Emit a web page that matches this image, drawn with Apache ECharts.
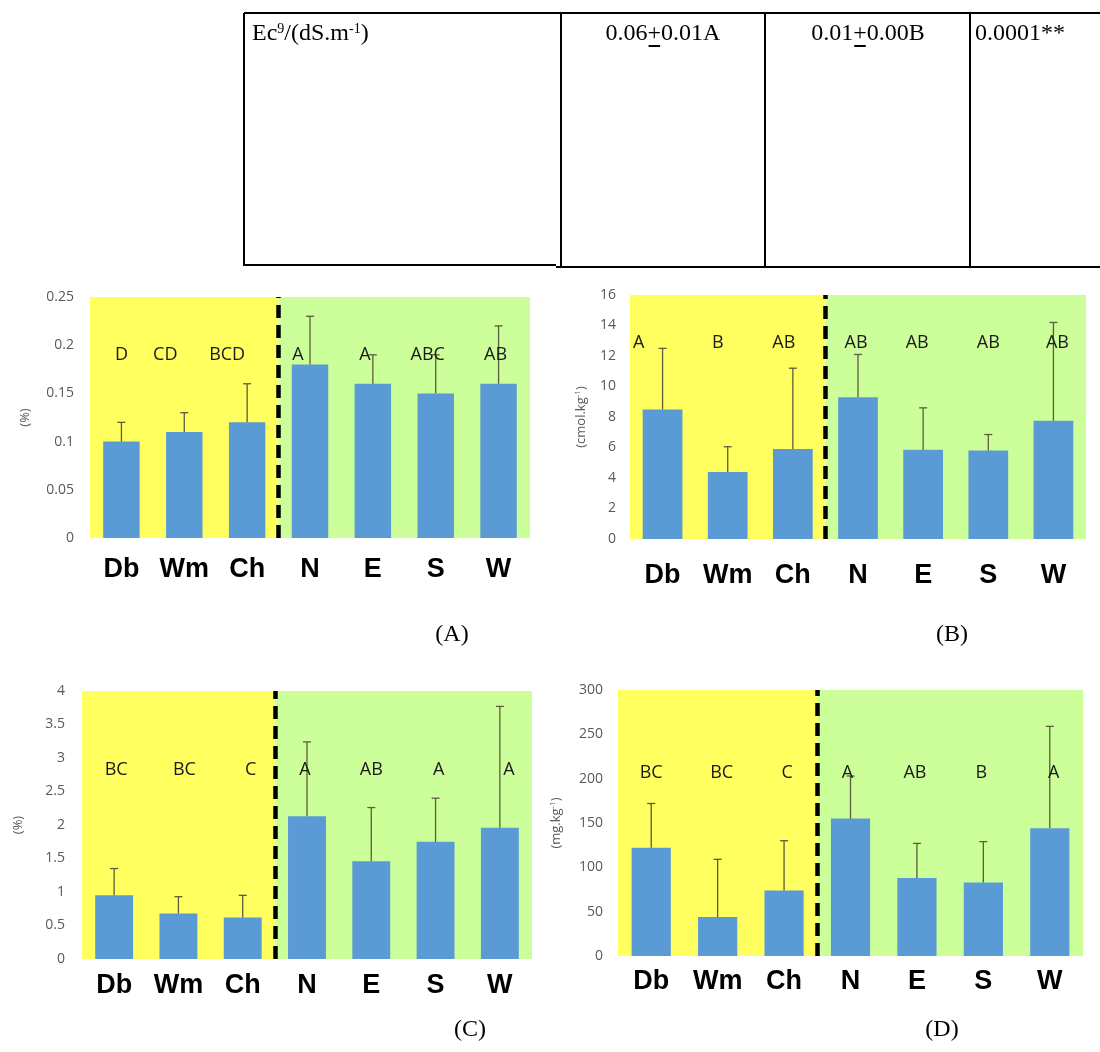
<!DOCTYPE html>
<html><head><meta charset="utf-8">
<script src="https://cdn.jsdelivr.net/npm/echarts@6/dist/echarts.min.js"></script>
<style>html,body{margin:0;padding:0;background:#fff}#c{width:1100px;height:1052px}</style>
</head><body><div id="c"></div>
<script>
// ---------- data ----------
const categories = ['Db', 'Wm', 'Ch', 'N', 'E', 'S', 'W'];
const regionSpans = [[0, 3], [3, 7]];   // yellow group, green group (in category units)
const dividerAt = 3;

const aValues = [0.10, 0.11, 0.12, 0.18, 0.16, 0.15, 0.16];
const aErrors = [0.02, 0.02, 0.04, 0.05, 0.03, 0.04, 0.06];
const aLetters = ['D', 'CD', 'BCD', 'A', 'A', 'ABC', 'AB'];

const bValues = [8.5, 4.4, 5.9, 9.3, 5.85, 5.8, 7.75];
const bErrors = [4.0, 1.65, 5.3, 2.8, 2.75, 1.05, 6.45];
const bLetters = ['A', 'B', 'AB', 'AB', 'AB', 'AB', 'AB'];

const cValues = [0.95, 0.68, 0.62, 2.13, 1.46, 1.75, 1.96];
const cErrors = [0.40, 0.25, 0.33, 1.11, 0.80, 0.65, 1.81];
const cLetters = ['BC', 'BC', 'C', 'A', 'AB', 'A', 'A'];

const dValues = [122, 44, 74, 155, 88, 83, 144];
const dErrors = [50, 65, 56, 48, 39, 46, 115];
const dLetters = ['BC', 'BC', 'C', 'A', 'AB', 'B', 'A'];

const aAxis = { min: 0, max: 0.25, interval: 0.05 };
const bAxis = { min: 0, max: 16, interval: 2 };
const cAxis = { min: 0, max: 4, interval: 0.5 };
const dAxis = { min: 0, max: 300, interval: 50 };

const tableRow = ['Ec{sup|9}/(dS.m{sup|-1})', '0.06+0.01A', '0.01+0.00B', '0.0001**'];
const panelTags = ['(A)', '(B)', '(C)', '(D)'];

// ---------- layout / style ----------
const panels = [
  { grid: { left: 90, top: 297, width: 440, height: 241 }, values: aValues, errors: aErrors, letters: aLetters, axis: aAxis,
    name: '(%)', nameGap: 58, letterY: 0.19, letterDx: [0, -19, -20, -12, -8, -8, -3], labelMargin: 18, tickMargin: 16, barWidth: '58%' },
  { grid: { left: 630, top: 295, width: 456, height: 244 }, values: bValues, errors: bErrors, letters: bLetters, axis: bAxis,
    name: '(cmol.kg{sup|-1})', nameGap: 42, letterY: 12.85, letterDx: [-24, -10, -9, -2, -6, 0, 4], labelMargin: 23, tickMargin: 14, barWidth: '61%' },
  { grid: { left: 82, top: 691, width: 450, height: 268 }, values: cValues, errors: cErrors, letters: cLetters, axis: cAxis,
    name: '(%)', nameGap: 57, letterY: 2.82, letterDx: [2, 6, 8, -2, 0, 3, 9], labelMargin: 13, tickMargin: 17, barWidth: '59%' },
  { grid: { left: 618, top: 690, width: 465, height: 266 }, values: dValues, errors: dErrors, letters: dLetters, axis: dAxis,
    name: '(mg.kg{sup|-1})', nameGap: 55, letterY: 207, letterDx: [0, 4, 3, -3, -2, -2, 4], labelMargin: 12, tickMargin: 15, barWidth: '59%' }
];
const regionColors = ['#FFFF60', '#CCFF99'];
const barColor = '#5B9BD5';
const errColor = '#5c5c3a';

const grids = [], xAxes = [], yAxes = [], series = [];
panels.forEach((p, k) => {
  grids.push(Object.assign({ containLabel: false }, p.grid));
  xAxes.push({
    type: 'category', gridIndex: k, data: categories,
    axisLine: { show: false }, axisTick: { show: false },
    axisLabel: { interval: 0, hideOverlap: false, color: '#000', fontSize: 27, fontWeight: 'bold',
      fontFamily: 'Liberation Sans, Arial', margin: p.labelMargin }
  });
  xAxes.push({ type: 'value', gridIndex: k, min: 0, max: categories.length, show: false });
  yAxes.push({
    type: 'value', gridIndex: k, min: p.axis.min, max: p.axis.max, interval: p.axis.interval,
    axisLine: { show: false }, axisTick: { show: false }, splitLine: { show: false },
    axisLabel: { color: '#595959', fontSize: 14, fontFamily: 'Open Sans', margin: p.tickMargin },
    name: p.name, nameLocation: 'middle', nameRotate: 90, nameGap: p.nameGap,
    nameTextStyle: { color: '#595959', fontSize: 13, fontFamily: 'Open Sans',
      rich: { sup: { fontSize: 8, color: '#595959', fontFamily: 'Open Sans', verticalAlign: 'top', padding: [0, 0, 6, 0] } } }
  });
  const ax = p.axis;
  // background regions + dashed divider
  series.push({
    type: 'custom', xAxisIndex: 2 * k + 1, yAxisIndex: k, z: 0, silent: true,
    data: regionSpans.map((s, i) => [s[0], s[1], i]),
    renderItem(params, api) {
      const a = api.coord([api.value(0), ax.max]);
      const b = api.coord([api.value(1), ax.min]);
      return { type: 'rect', shape: { x: a[0], y: a[1], width: b[0] - a[0], height: b[1] - a[1] },
        style: { fill: regionColors[api.value(2)] } };
    },
    markLine: {
      silent: true, symbol: ['none', 'none'], label: { show: false },
      lineStyle: { color: '#000', width: 4.5, type: [13, 7] },
      data: [{ xAxis: dividerAt }]
    }
  });
  series.push({
    type: 'bar', xAxisIndex: 2 * k, yAxisIndex: k, z: 2, barWidth: p.barWidth,
    data: p.values, itemStyle: { color: barColor }
  });
  series.push({
    type: 'custom', xAxisIndex: 2 * k, yAxisIndex: k, z: 3, silent: true,
    data: p.values.map((v, i) => [i, v, p.errors[i]]),
    encode: { x: 0, y: 1 },
    renderItem(params, api) {
      const i = api.value(0), v = api.value(1), e = api.value(2);
      const p0 = api.coord([i, v]), p1 = api.coord([i, v + e]);
      const st = { stroke: errColor, lineWidth: 1.3 };
      return { type: 'group', children: [
        { type: 'line', shape: { x1: p0[0], y1: p0[1], x2: p1[0], y2: p1[1] }, style: st },
        { type: 'line', shape: { x1: p1[0] - 4, y1: p1[1], x2: p1[0] + 4, y2: p1[1] }, style: st }
      ] };
    }
  });
  series.push({
    type: 'custom', xAxisIndex: 2 * k, yAxisIndex: k, z: 4, silent: true,
    data: p.letters.map((t, i) => [i, p.letterY]),
    encode: { x: 0, y: 1 },
    renderItem(params, api) {
      const i = params.dataIndex;
      const pt = api.coord([api.value(0), api.value(1)]);
      return { type: 'text', x: pt[0] + p.letterDx[i], y: pt[1],
        style: { text: p.letters[i], fill: '#1a1a1a', font: '18px "Open Sans"', align: 'center', verticalAlign: 'middle' } };
    }
  });
});

// table + panel tags as graphics
const L = (x1, y1, x2, y2) => ({ type: 'line', shape: { x1, y1, x2, y2 }, style: { stroke: '#000', lineWidth: 2 } });
const serif = '"Liberation Serif", "Times New Roman", serif';
const supStyle = { fontSize: 14, fontFamily: 'Liberation Serif', verticalAlign: 'top', padding: [0, 0, 10, 0] };
const cellY = 34;
const cellText = (x, txt, align) => ({ type: 'text', x, y: cellY,
  style: { text: txt, fill: '#000', font: '24px ' + serif, align: align, verticalAlign: 'middle', rich: { sup: supStyle } } });
const tag = (x, y, t) => ({ type: 'text', x, y, style: { text: t, fill: '#000', font: '24px ' + serif, align: 'center', verticalAlign: 'middle' } });
const graphics = [
  L(244, 13, 1100, 13), L(244, 13, 244, 266), L(244, 265, 556, 265), L(556, 267, 1100, 267),
  L(561, 13, 561, 267), L(765, 13, 765, 267), L(970, 13, 970, 267),
  cellText(252, tableRow[0], 'left'),
  cellText(663, tableRow[1], 'center'),
  cellText(868, tableRow[2], 'center'),
  cellText(975, tableRow[3], 'left'),
  tag(452, 635, panelTags[0]), tag(952, 635, panelTags[1]),
  tag(470, 1030, panelTags[2]), tag(942, 1030, panelTags[3])
];

// underline the '+' signs (the source writes ± as an underlined plus)
(function () {
  const ctx = document.createElement('canvas').getContext('2d');
  ctx.font = '24px "Liberation Serif"';
  [[663, tableRow[1]], [868, tableRow[2]]].forEach(([cx, txt]) => {
    const full = ctx.measureText(txt).width;
    const pre = ctx.measureText(txt.split('+')[0]).width;
    const plus = ctx.measureText('+').width;
    const x0 = cx - full / 2 + pre + 1;
    graphics.push(L(x0, cellY + 12, x0 + plus - 2, cellY + 12));
  });
})();

const chart = echarts.init(document.getElementById('c'), null, { renderer: 'canvas' });
chart.setOption({
  animation: false, backgroundColor: '#fff',
  grid: grids, xAxis: xAxes, yAxis: yAxes, series: series, graphic: graphics
});
</script></body></html>
